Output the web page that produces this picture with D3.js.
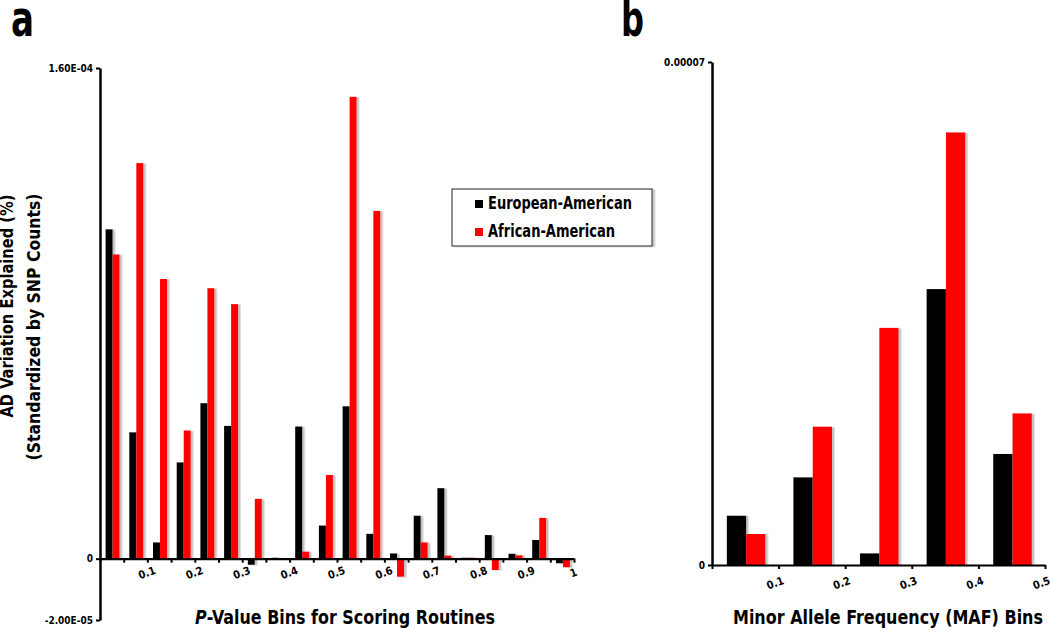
<!DOCTYPE html>
<html>
<head>
<meta charset="utf-8">
<script src="https://cdn.jsdelivr.net/npm/d3@7"></script>
<style>
body { margin: 0; background: #fff; }
text { font-family: "Liberation Sans Narrow", "DejaVu Sans Condensed", "Roboto Condensed", sans-serif; font-weight: bold; }
</style>
</head>
<body>
<svg id="chart" width="1050" height="632"></svg>
<script>
var series = ["European-American", "African-American"];
var colors = ["#000000", "#ff0000"];

// panel a - P-value bins, 0.05 wide
var pBins = ["0-0.05", "0.05-0.1", "0.1-0.15", "0.15-0.2", "0.2-0.25", "0.25-0.3", "0.3-0.35", "0.35-0.4", "0.4-0.45", "0.45-0.5",
	"0.5-0.55", "0.55-0.6", "0.6-0.65", "0.65-0.7", "0.7-0.75", "0.75-0.8", "0.8-0.85", "0.85-0.9", "0.9-0.95", "0.95-1"];
var pEuro = [10.74e-5, 4.12e-5, 0.53e-5, 3.14e-5, 5.07e-5, 4.33e-5, -0.2e-5, 0.03e-5, 4.31e-5, 1.08e-5,
	4.97e-5, 0.81e-5, 0.17e-5, 1.40e-5, 2.30e-5, 0.03e-5, 0.77e-5, 0.16e-5, 0.61e-5, -0.15e-5];
var pAfr = [9.92e-5, 12.9e-5, 9.12e-5, 4.18e-5, 8.82e-5, 8.30e-5, 1.95e-5, 0, 0.23e-5, 2.73e-5,
	15.06e-5, 11.34e-5, -0.59e-5, 0.53e-5, 0.10e-5, 0.03e-5, -0.37e-5, 0.11e-5, 1.33e-5, -0.28e-5];
var pTickLabels = ["0.1", "0.2", "0.3", "0.4", "0.5", "0.6", "0.7", "0.8", "0.9", "1"];
var pYTicks = [1.6e-4, 0, -2e-5];
var pYLabels = ["1.60E-04", "0", "-2.00E-05"];

// panel b - minor allele frequency bins
var mafBins = ["0-0.1", "0.1-0.2", "0.2-0.3", "0.3-0.4", "0.4-0.5"];
var mafEuro = [0.686e-5, 1.22e-5, 0.162e-5, 3.84e-5, 1.545e-5];
var mafAfr = [0.431e-5, 1.925e-5, 3.30e-5, 6.02e-5, 2.11e-5];
var mafTickLabels = ["0.1", "0.2", "0.3", "0.4", "0.5"];
var mafYTicks = [7e-5, 0];
var mafYLabels = ["0.00007", "0"];

var svg = d3.select("#chart");

var defs = svg.append("defs");
defs.append("filter").attr("id", "shadow")
	.attr("x", "-20%").attr("y", "-5%").attr("width", "160%").attr("height", "110%")
	.append("feDropShadow")
	.attr("dx", 2.5).attr("dy", 0.5).attr("stdDeviation", 0.7)
	.attr("flood-color", "#888").attr("flood-opacity", 0.5);

// squeeze text to the width it has in the figure (condensed face)
function fit(sel, w) {
	return sel.attr("textLength", w).attr("lengthAdjust", "spacingAndGlyphs");
}

function drawPanel(o) {
	var g = svg.append("g");
	var n = o.bins.length;

	var y = d3.scaleLinear().domain(o.yDomain).range([o.bottom, o.top]);
	var xb = d3.scaleBand().domain(o.bins).range([o.left, o.right]).padding(0);
	var xs = d3.scaleBand().domain(series).range([0, xb.bandwidth()])
		.paddingInner(0).paddingOuter(o.outer).align(o.align);
	var xl = d3.scaleLinear().domain([0, n]).range([o.left, o.right]);

	var rows = o.bins.map(function(b, i) {
		return { bin: b, vals: [o.euro[i], o.afr[i]] };
	});

	g.append("g").selectAll("g")
		.data(rows)
		.enter().append("g")
			.attr("transform", function(d) { return "translate(" + xb(d.bin) + ",0)"; })
		.selectAll("rect")
		.data(function(d) { return d.vals.map(function(v, j) { return { key: series[j], v: v }; }); })
		.enter().append("rect")
			.attr("x", function(d) { return xs(d.key); })
			.attr("width", xs.bandwidth())
			.attr("y", function(d) { return y(Math.max(0, d.v)); })
			.attr("height", function(d) { return Math.abs(y(d.v) - y(0)); })
			.attr("fill", function(d) { return colors[series.indexOf(d.key)]; })
			.attr("filter", "url(#shadow)");

	// x axis on zero line
	var xAxis = g.append("g")
		.attr("transform", "translate(0," + y(0) + ")")
		.call(d3.axisBottom(xl)
			.tickValues(d3.range(0, n + 1))
			.tickSize(4).tickSizeOuter(0)
			.tickFormat(function(i) {
				return (i > 0 && i % o.labelEvery == 0) ? o.tickLabels[i / o.labelEvery - 1] : "";
			}));
	xAxis.select(".domain").attr("stroke-width", 2.2);
	xAxis.selectAll(".tick line").attr("stroke-width", 2);
	xAxis.selectAll("text")
		.attr("y", 0).attr("dy", "0.35em")
		.attr("font-size", 11)
		.attr("fill", "#000")
		.attr("transform", "translate(" + o.lblDx + "," + o.lblDy + ") rotate(-20)");

	// y axis
	var yAxis = g.append("g")
		.attr("transform", "translate(" + o.left + ",0)")
		.call(d3.axisLeft(y)
			.tickValues(o.yTicks)
			.tickSize(4).tickSizeOuter(0)
			.tickFormat(function(d, i) { return o.yLabels[i]; }));
	yAxis.select(".domain").attr("stroke-width", 2.5);
	yAxis.selectAll(".tick line").attr("stroke-width", 2);
	yAxis.selectAll("text").attr("font-size", 10).attr("fill", "#000").attr("x", -7);

	// x title
	var t = g.append("text")
		.attr("x", o.titleX).attr("y", o.titleY)
		.attr("text-anchor", "middle")
		.attr("font-size", 19);
	if (o.titleItalic) t.append("tspan").attr("font-style", "italic").text(o.titleItalic);
	t.append("tspan").text(o.title);
	fit(t, o.titleW);

	// panel letter
	fit(g.append("text")
		.attr("x", o.letterX).attr("y", 36)
		.attr("font-size", 50)
		.text(o.letter), 23);

	return { g: g, y: y };
}

drawPanel({
	bins: pBins, euro: pEuro, afr: pAfr,
	yDomain: [-2e-5, 1.6e-4], top: 68, bottom: 620,
	left: 100, right: 574, outer: 0.69, align: 0.58,
	tickLabels: pTickLabels, labelEvery: 2, lblDx: -1, lblDy: 14,
	yTicks: pYTicks, yLabels: pYLabels,
	titleItalic: "P", title: "-Value Bins for Scoring Routines", titleX: 345, titleY: 624, titleW: 300,
	letter: "a", letterX: 11
});

drawPanel({
	bins: mafBins, euro: mafEuro, afr: mafAfr,
	yDomain: [0, 7e-5], top: 62, bottom: 565,
	left: 712, right: 1045, outer: 0.725, align: 0.53,
	tickLabels: mafTickLabels, labelEvery: 1, lblDx: -4, lblDy: 18,
	yTicks: mafYTicks, yLabels: mafYLabels,
	title: "Minor Allele Frequency (MAF) Bins", titleX: 888, titleY: 624, titleW: 310,
	letter: "b", letterX: 621
});

// y title for panel a
var yt = svg.append("g").attr("font-size", 17);
fit(yt.append("text")
	.attr("transform", "translate(13,306) rotate(-90)")
	.attr("text-anchor", "middle")
	.text("AD Variation Explained (%)"), 223);
fit(yt.append("text")
	.attr("transform", "translate(40,327) rotate(-90)")
	.attr("text-anchor", "middle")
	.text("(Standardized by SNP Counts)"), 267);

// legend
var legendW = [144, 127];
var leg = svg.append("g").attr("transform", "translate(452,189)");
leg.append("rect")
	.attr("width", 200).attr("height", 57)
	.attr("fill", "#fff").attr("stroke", "#222").attr("stroke-width", 1)
	.attr("filter", "url(#shadow)");
var li = leg.selectAll(".item")
	.data(series)
	.enter().append("g")
		.attr("class", "item")
		.attr("transform", function(d, i) { return "translate(23," + (11 + i * 28) + ")"; });
li.append("rect")
	.attr("width", 8).attr("height", 8)
	.attr("fill", function(d, i) { return colors[i]; });
li.append("text")
	.attr("x", 13).attr("y", 9)
	.attr("font-size", 17)
	.attr("textLength", function(d, i) { return legendW[i]; })
	.attr("lengthAdjust", "spacingAndGlyphs")
	.text(function(d) { return d; });
</script>
</body>
</html>
